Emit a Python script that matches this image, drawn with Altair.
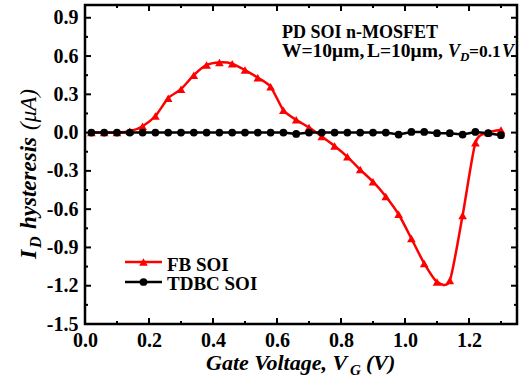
import altair as alt
import pandas as pd

# ---- data ----
vg = [0.02, 0.06, 0.10, 0.14, 0.18, 0.22, 0.26, 0.30, 0.34, 0.38, 0.42,
      0.46, 0.50, 0.54, 0.58, 0.62, 0.66, 0.70, 0.74, 0.78, 0.82, 0.86,
      0.90, 0.94, 0.98, 1.02, 1.06, 1.10, 1.14, 1.18, 1.22, 1.26, 1.30]
fb_soi = [0.0, 0.0, 0.0, 0.01, 0.05, 0.13, 0.27, 0.34, 0.45, 0.53, 0.55,
          0.54, 0.49, 0.43, 0.36, 0.175, 0.10, 0.04, -0.03, -0.105, -0.19, -0.29,
          -0.385, -0.50, -0.64, -0.83, -1.025, -1.17, -1.16, -0.65, -0.08, 0.0, 0.02]
tdbc_soi = [0.0, 0.0, 0.0, 0.0, 0.0, 0.0, 0.0, 0.0, 0.0, 0.0, 0.0,
            0.0, 0.0, 0.0, 0.0, 0.0, -0.01, 0.0, 0.0, 0.0, 0.0, 0.0,
            0.0, 0.0, -0.015, 0.005, 0.005, -0.005, -0.005, -0.015, 0.005, -0.005, -0.02]

x_major = [0.0, 0.2, 0.4, 0.6, 0.8, 1.0, 1.2]
x_minor = [0.1, 0.3, 0.5, 0.7, 0.9, 1.1, 1.3]
y_major = [-1.5, -1.2, -0.9, -0.6, -0.3, 0.0, 0.3, 0.6, 0.9]
y_minor = [-1.35, -1.05, -0.75, -0.45, -0.15, 0.15, 0.45, 0.75]

W, H = 432, 319
FONT = "Liberation Serif"

df = pd.DataFrame({"vg": vg, "fb": fb_soi, "tdbc": tdbc_soi})
xs = alt.Scale(domain=[0, 1.35], nice=False, zero=False)
ys = alt.Scale(domain=[-1.5, 1.0], nice=False, zero=False)

xa = alt.Axis(values=x_major, format=".1f", title=None, ticks=False, domain=False, grid=False,
              labelFont=FONT, labelFontSize=20, labelFontWeight="bold", labelColor="black",
              labelPadding=6, labelFlush=False, labelOverlap=False)
ya = alt.Axis(values=y_major, format=".1f", title=None, ticks=False, domain=False, grid=False,
              labelFont=FONT, labelFontSize=20, labelFontWeight="bold", labelColor="black",
              labelPadding=7, labelFlush=False, labelOverlap=False,
              labelExpr="replace(format(datum.value, '.1f'), '\u2212', '-')")


def X(f):
    return alt.X(f, type="quantitative", scale=xs, axis=xa)


def Y(f):
    return alt.Y(f, type="quantitative", scale=ys, axis=ya)


base = alt.Chart(df)

fb_line = base.mark_line(color="#ff0000", strokeWidth=2.5, interpolate="cardinal", tension=0.3).encode(
    x=X("vg"), y=Y("fb"))
fb_pts = base.mark_point(shape="triangle-up", filled=True, size=75, color="#ff0000", opacity=1).encode(
    x=X("vg"), y=Y("fb"))
tdbc_line = base.mark_line(color="black", strokeWidth=2.5).encode(
    x=X("vg"), y=Y("tdbc"))
tdbc_pts = base.mark_circle(size=60, color="black", opacity=1).encode(
    x=X("vg"), y=Y("tdbc"))


def xticks(vals, length):
    d = alt.Chart(pd.DataFrame({"v": vals}))
    b = d.mark_rule(color="black", strokeWidth=2).encode(
        x=X("v"), y=alt.value(H), y2=alt.value(H - length))
    t = d.mark_rule(color="black", strokeWidth=2).encode(
        x=X("v"), y=alt.value(0), y2=alt.value(length))
    return [b, t]


def yticks(vals, length):
    d = alt.Chart(pd.DataFrame({"v": vals}))
    l = d.mark_rule(color="black", strokeWidth=2).encode(
        y=Y("v"), x=alt.value(0), x2=alt.value(length))
    r = d.mark_rule(color="black", strokeWidth=2).encode(
        y=Y("v"), x=alt.value(W), x2=alt.value(W - length))
    return [l, r]


one = pd.DataFrame({"a": [0]})


def txt(s, x, y, size, weight="bold", style="normal", angle=0):
    return alt.Chart(one).mark_text(
        text=s, align="left", baseline="alphabetic", font=FONT, fontSize=size,
        fontWeight=weight, fontStyle=style, angle=angle, color="black"
    ).encode(x=alt.value(x), y=alt.value(y))


texts = [
    # annotation
    txt("PD SOI n-MOSFET", 197, 33, 18),
    txt("W=10\u03bcm,", 197, 52, 19.5),
    txt("L=10\u03bcm,", 282, 52, 19.5),
    txt("V", 363, 52, 18, style="italic"),
    txt("D", 375, 56, 13, style="italic"),
    txt("=0.1", 384, 52, 17.5),
    txt("V", 417, 52, 18, style="italic"),
    # x title
    txt("Gate Voltage, V", 121, 365, 22, style="italic"),
    txt("G", 265, 370, 15, style="italic"),
    txt("(V)", 281, 365, 22, style="italic"),
    # y title
    txt("I", -49, 254, 24, style="italic", angle=270),
    txt("D", -44, 243, 16, style="italic", angle=270),
    txt("hysteresis", -49, 224, 23, style="italic", angle=270),
    txt("(\u03bcA)", -49, 125, 23, weight="normal", style="italic", angle=270),
    # legend labels
    txt("FB SOI", 82, 266, 19),
    txt("TDBC SOI", 82, 285, 19),
]

leg = [
    alt.Chart(one).mark_rule(color="#ff0000", strokeWidth=2.5).encode(
        x=alt.value(40), x2=alt.value(77), y=alt.value(257)),
    alt.Chart(one).mark_point(shape="triangle-up", filled=True, size=75, color="#ff0000", opacity=1).encode(
        x=alt.value(58.5), y=alt.value(257)),
    alt.Chart(one).mark_rule(color="black", strokeWidth=2.5).encode(
        x=alt.value(40), x2=alt.value(77), y=alt.value(277)),
    alt.Chart(one).mark_circle(size=60, color="black", opacity=1).encode(
        x=alt.value(58.5), y=alt.value(277)),
]

layers = ([fb_line, fb_pts, tdbc_line, tdbc_pts]
          + xticks(x_major, 6) + xticks(x_minor, 3)
          + yticks(y_major, 6) + yticks(y_minor, 3)
          + leg + texts)

chart = alt.layer(*layers).properties(
    width=W, height=H,
    autosize=alt.AutoSizeParams(type="none"),
    padding={"left": 85, "top": 5, "right": 9, "bottom": 59},
    background="white",
).configure_view(stroke="black", strokeWidth=2.5)

chart.save("out.html", embed_options={"renderer": "svg", "actions": False})
